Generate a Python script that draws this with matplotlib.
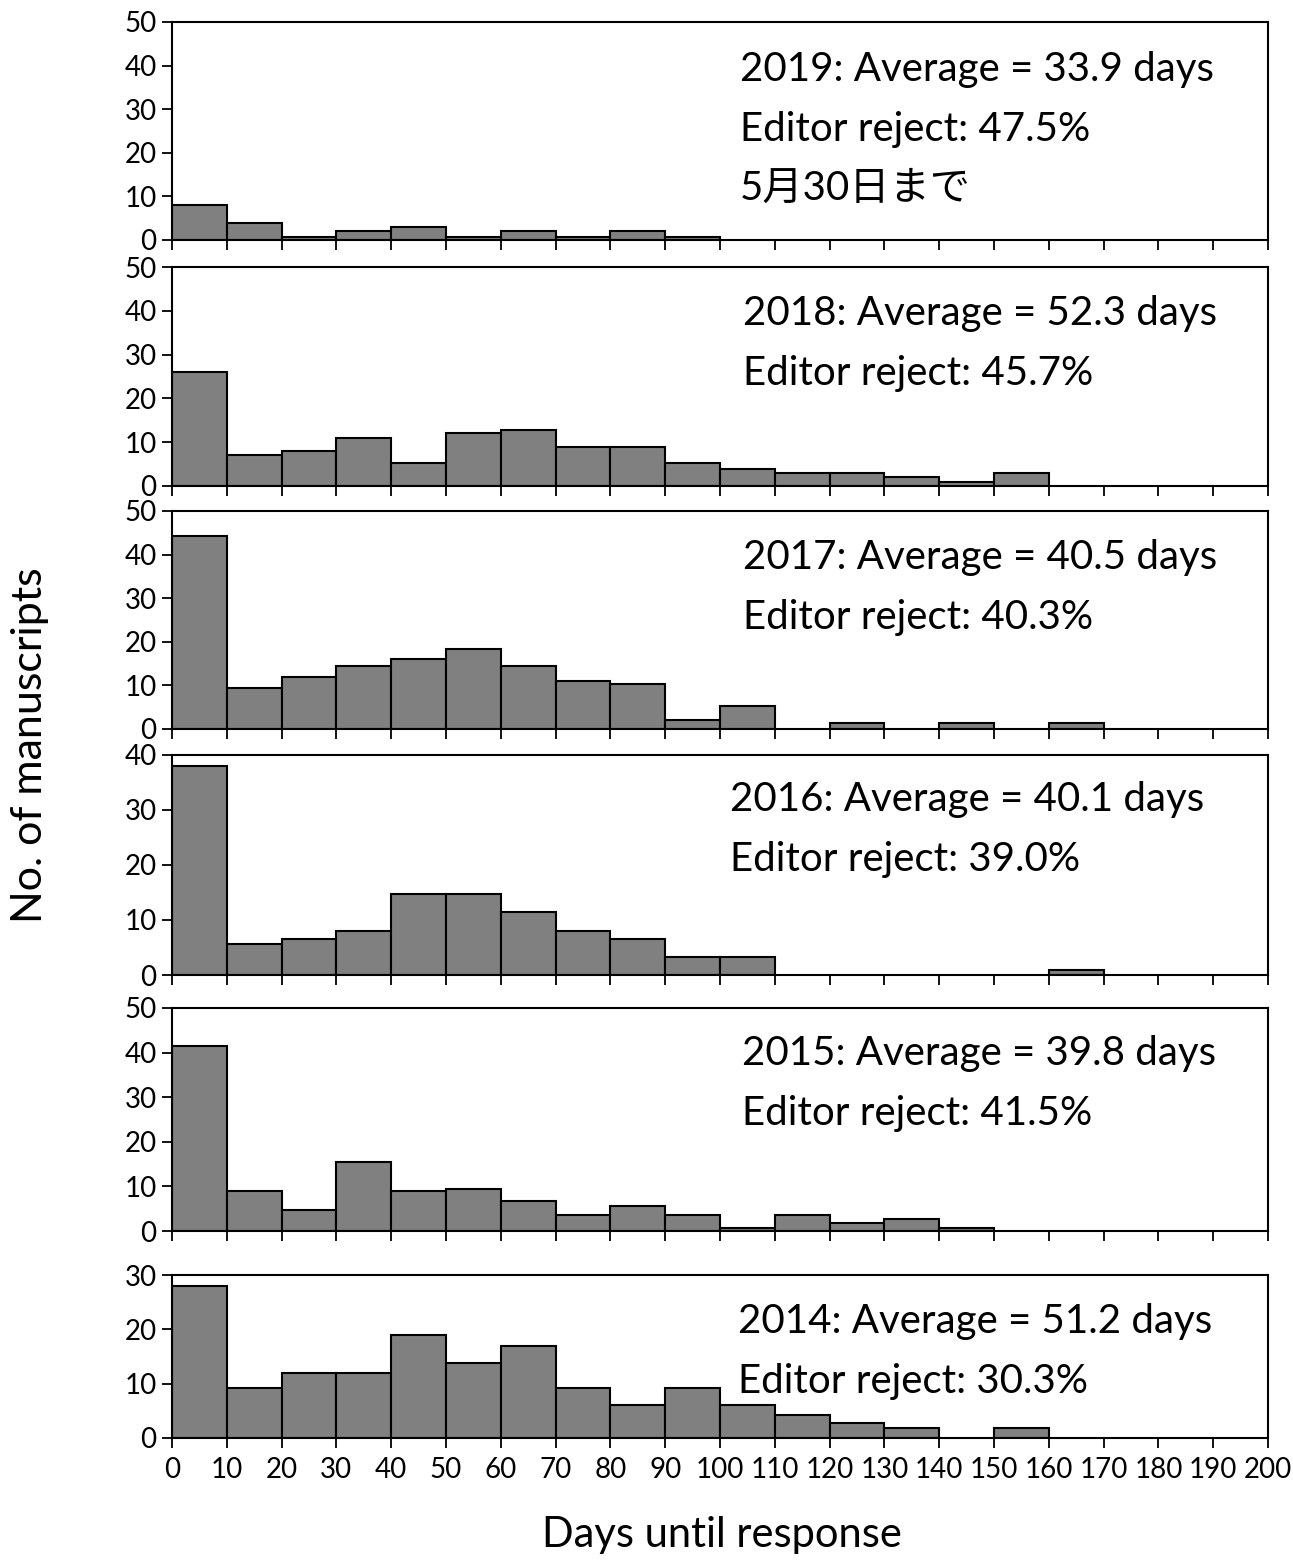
import numpy as np
import matplotlib.pyplot as plt

plt.rcParams['font.family'] = ['Lato', 'Noto Sans CJK JP', 'DejaVu Sans']

# bins: 0-10, 10-20, ... 190-200 days
bin_edges = np.arange(0, 210, 10)

counts_2019 = [8, 4, 0.6, 2, 3, 0.6, 2, 0.6, 2, 0.6, 0, 0, 0, 0, 0, 0, 0, 0, 0, 0]
counts_2018 = [26, 7, 8, 11, 5.2, 12, 12.8, 9, 9, 5.2, 3.8, 3, 3, 2, 1, 3, 0, 0, 0, 0]
counts_2017 = [44.3, 9.3, 12, 14.5, 16, 18.3, 14.5, 11, 10.3, 2, 5.3, 0, 1.4, 0, 1.4, 0, 1.4, 0, 0, 0]
counts_2016 = [38, 5.7, 6.6, 8, 14.7, 14.7, 11.5, 8, 6.6, 3.2, 3.2, 0, 0, 0, 0, 0, 0.9, 0, 0, 0]
counts_2015 = [41.5, 9, 4.6, 15.4, 9, 9.5, 6.7, 3.5, 5.6, 3.5, 0.6, 3.5, 1.9, 2.8, 0.6, 0, 0, 0, 0, 0]
counts_2014 = [28, 9.2, 12, 12, 19, 13.8, 17, 9.2, 6, 9.2, 6, 4.2, 2.8, 1.9, 0, 1.9, 0, 0, 0, 0]

years = ["2019", "2018", "2017", "2016", "2015", "2014"]
averages = ["33.9", "52.3", "40.5", "40.1", "39.8", "51.2"]
rejects = ["47.5%", "45.7%", "40.3%", "39.0%", "41.5%", "30.3%"]
ymax = [50, 50, 50, 40, 50, 30]
all_counts = [counts_2019, counts_2018, counts_2017, counts_2016, counts_2015, counts_2014]

W, H = 1293, 1562
fig = plt.figure(figsize=(W / 100, H / 100), dpi=100)

# panel frames in pixels: (top, bottom)
panels = [(22, 240), (267, 486), (511, 729), (755, 975), (1008, 1231), (1275, 1438)]
# text anchor in pixels: (left x, first line y)
text_pos = [(740, 70), (743, 313), (743, 557), (730, 800), (742, 1053), (738, 1322)]
left, right = 172, 1268

for i, (top, bot) in enumerate(panels):
    ax = fig.add_axes([left / W, 1 - bot / H, (right - left) / W, (bot - top) / H])
    c = np.array(all_counts[i], dtype=float)
    m = c > 0
    ax.bar(bin_edges[:-1][m], c[m], width=10, align='edge',
           color='#808080', edgecolor='black', linewidth=1.5)
    ax.set_xlim(0, 200)
    ax.set_ylim(0, ymax[i])
    ax.set_yticks(np.arange(0, ymax[i] + 1, 10))
    ax.set_xticks(bin_edges)
    for s in ax.spines.values():
        s.set_linewidth(1.5)
    ax.tick_params(direction='out', length=7, width=1.3, labelsize=20, pad=4)
    ax.tick_params(axis='x', pad=7)
    if i < 5:
        ax.tick_params(axis='x', labelbottom=False)

    tx, ty = text_pos[i]
    fig.text(tx / W, 1 - ty / H, f"{years[i]}: Average = {averages[i]} days",
             fontsize=29, va='center', ha='left')
    fig.text(tx / W, 1 - (ty + 60) / H, f"Editor reject: {rejects[i]}",
             fontsize=29, va='center', ha='left')
    if i == 0:
        fig.text(tx / W, 1 - (ty + 118) / H, "5月30日まで",
                 fontsize=29, va='center', ha='left')

fig.text(30 / W, 1 - 745 / H, "No. of manuscripts", rotation=90,
         fontsize=31, va='center', ha='center')
fig.text(722 / W, 1 - 1535 / H, "Days until response",
         fontsize=30, va='center', ha='center')

fig.savefig("out.png", dpi=100)
